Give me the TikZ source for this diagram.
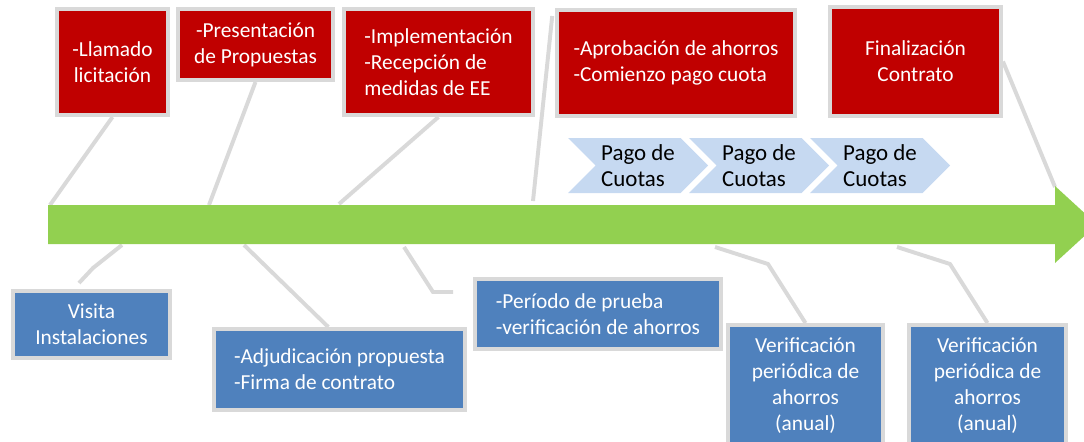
\documentclass[tikz,border=0pt]{standalone}
\usepackage{fontspec}
\setmainfont{Carlito}
\usetikzlibrary{shapes.symbols,backgrounds}
\definecolor{rojo}{HTML}{C00000}
\definecolor{azul}{HTML}{4F81BD}
\definecolor{verde}{HTML}{92D050}
\definecolor{celeste}{HTML}{C6D9F1}
\definecolor{gris}{HTML}{D9D9D9}
\begin{document}
\begin{tikzpicture}[x=0.025cm,y=-0.025cm,
    tam/.style 2 args={minimum width=#1*0.025cm,minimum height=#2*0.025cm},
    caja/.style={draw=gris,line width=2.8pt,text=white,inner sep=2pt,align=center,
      font=\fontsize{15.2}{18.5}\selectfont},
    cajaroja/.style={caja,fill=rojo},
    cajaazul/.style={caja,fill=azul},
    pago/.style={signal,signal from=west,signal to=east,fill=celeste,inner sep=1pt,
      minimum height=55*0.025cm,minimum width=140*0.025cm,align=left,
      font=\fontsize{16.3}{18.5}\selectfont},
    linea/.style={gris,line width=2.8pt}]
\useasboundingbox (0,0) rectangle (1084,441);
% linea de tiempo
\fill[verde] (48,205) -- (1055,205) -- (1055,186) -- (1097,224.5) -- (1055,263) -- (1055,244) -- (48,244) -- cycle;
\coordinate (t1) at (50,205);
\coordinate (t2) at (209,205);
\coordinate (t3) at (339,204);
\coordinate (t4) at (533,201);
\coordinate (t5) at (1055,187);
\coordinate (b1) at (122,245);
\coordinate (b2) at (244,245);
\coordinate (b3) at (404,247);
\coordinate (b4) at (715,247);
\coordinate (b5) at (897,247);
\coordinate (e1) at (79,283);
\coordinate (e3) at (453,292);
% hitos arriba
\node[cajaroja,tam={111}{106}] (llamado) at (112.5,62) {-Llamado\\licitación};
\node[cajaroja,tam={155}{71}] (propuestas) at (255.5,44.5) {-Presentación\\de Propuestas};
\node[cajaroja,tam={189}{106},align=left] (implem) at (438.5,62) {-Implementación\\-Recepción de\\medidas de EE};
\node[cajaroja,tam={238}{106},align=left] (aprob) at (676,63) {-Aprobación de ahorros\\-Comienzo pago cuota};
\node[cajaroja,tam={171}{109}] (final) at (915.5,61.5) {Finalización\\Contrato};
\foreach \i/\x in {1/638,2/759,3/880}
  \node[pago] (pago\i) at (\x,165.5) {Pago de\\Cuotas};
% hitos abajo
\node[cajaazul,tam={157}{67}] (visita) at (91.5,324.5) {Visita\\Instalaciones};
\node[cajaazul,tam={251}{81},align=left] (adjud) at (339.5,369.5) {-Adjudicación propuesta\\-Firma de contrato};
\node[cajaazul,tam={246}{70},align=left] (prueba) at (598,314) {-Período de prueba\\-verificación de ahorros};
\node[cajaazul,tam={155}{121}] (verif1) at (805.5,385.5) {Verificación\\periódica de\\ahorros\\(anual)};
\node[cajaazul,tam={157}{121}] (verif2) at (987.5,385.5) {Verificación\\periódica de\\ahorros\\(anual)};
\begin{scope}[on background layer]
  \draw[linea] (llamado.south) -- (t1);
  \draw[linea] (propuestas.south) -- (t2);
  \draw[linea] (implem.south) -- (t3);
  \draw[linea] ([xshift=-0.07cm,yshift=-0.2cm]aprob.north west) -- (t4);
  \draw[linea] (final.east) -- (t5);
  \draw[linea] (b1) -- ++(-29,23) -- (e1);
  \draw[linea] (b2) -- ([xshift=-0.28cm]adjud.north);
  \draw[linea] (b3) -- ++(29,45) -- (e3);
  \draw[linea] (b4) -- ++(53,17) -- (verif1.north);
  \draw[linea] (b5) -- ++(53,17) -- (verif2.north);
\end{scope}
\end{tikzpicture}
\end{document}
